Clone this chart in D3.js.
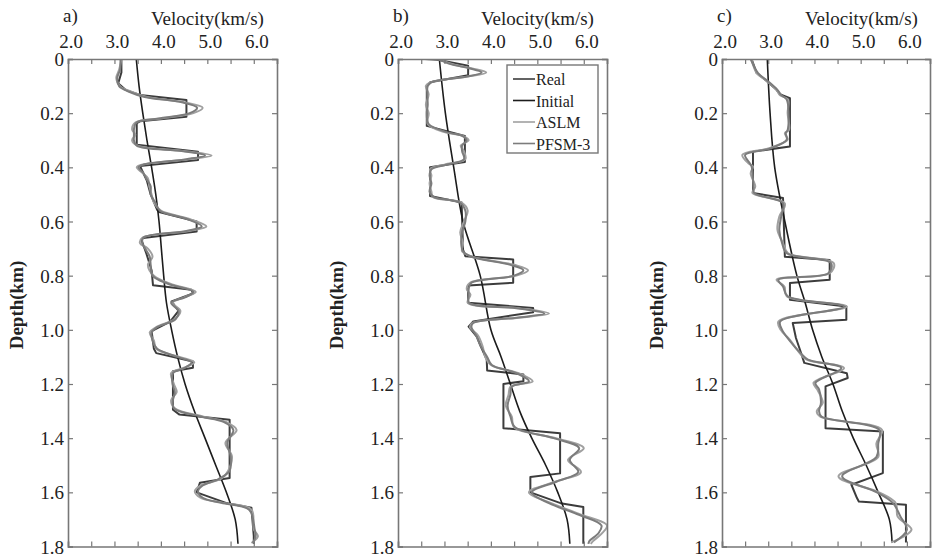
<!DOCTYPE html>
<html><head><meta charset="utf-8">
<script src="https://cdn.jsdelivr.net/npm/d3@7"></script>
<style>body{margin:0;background:#fff}svg{display:block}text{font-family:"Liberation Serif","Times New Roman",serif;fill:#222}</style>
</head><body><svg id="c" width="933" height="558"></svg>
<script>
const velTicks = [2.0, 3.0, 4.0, 5.0, 6.0];
const velMinorTicks = [2.0,2.5,3.0,3.5,4.0,4.5,5.0,5.5,6.0,6.5];
const depthTicks = [0,0.2,0.4,0.6,0.8,1.0,1.2,1.4,1.6,1.8];
const seriesNames = ["Real","Initial","ASLM","PFSM-3"];
const panelLabels = ["a)","b)","c)"];

// Panel a  [depth km, velocity km/s]
const realA = [[0,3.15],[0.05,3.15],[0.09,3.08],[0.115,3.25],[0.133,3.55],[0.151,4.55],[0.213,4.55],[0.23,3.55],[0.237,3.48],[0.317,3.48],[0.342,4.8],[0.373,4.8],[0.395,3.55],[0.45,3.7],[0.5,3.78],[0.557,3.92],[0.565,3.96],[0.6,4.77],[0.637,4.77],[0.661,3.62],[0.667,3.58],[0.72,3.69],[0.78,3.80],[0.835,3.83],[0.852,4.66],[0.866,4.69],[0.895,4.23],[0.93,4.38],[0.97,4.2],[1.005,3.80],[1.07,3.85],[1.086,3.9],[1.117,4.69],[1.14,4.69],[1.153,4.26],[1.295,4.26],[1.313,4.4],[1.332,5.48],[1.547,5.48],[1.565,4.84],[1.60,4.77],[1.639,5.4],[1.657,5.95],[1.762,6.0],[1.79,6.0]];
const initialA = [[0,3.47],[0.1,3.53],[0.2,3.61],[0.3,3.70],[0.4,3.80],[0.5,3.89],[0.6,3.96],[0.7,4.01],[0.8,4.06],[0.9,4.12],[1.0,4.23],[1.1,4.36],[1.2,4.52],[1.3,4.72],[1.4,4.95],[1.5,5.18],[1.6,5.41],[1.7,5.60],[1.79,5.66]];
const aslmA = [[0,3.15],[0.04,3.1],[0.07,3.04],[0.1,3.12],[0.12,3.35],[0.14,3.7],[0.16,4.5],[0.18,4.9],[0.2,4.7],[0.22,4.0],[0.235,3.45],[0.26,3.38],[0.28,3.45],[0.3,3.38],[0.32,3.5],[0.34,4.5],[0.356,5.09],[0.37,4.6],[0.39,3.6],[0.4,3.48],[0.42,3.6],[0.44,3.72],[0.47,3.75],[0.5,3.8],[0.53,3.85],[0.56,4.0],[0.59,4.6],[0.618,4.98],[0.635,4.6],[0.66,3.6],[0.68,3.55],[0.7,3.72],[0.73,3.82],[0.76,3.72],[0.8,3.85],[0.83,4.2],[0.86,4.75],[0.88,4.5],[0.9,4.25],[0.93,4.42],[0.96,4.3],[0.99,3.9],[1.01,3.76],[1.04,3.85],[1.07,3.9],[1.1,4.4],[1.12,4.72],[1.14,4.5],[1.16,4.22],[1.2,4.28],[1.23,4.34],[1.26,4.22],[1.29,4.3],[1.32,4.9],[1.34,5.4],[1.37,5.63],[1.417,5.39],[1.467,5.53],[1.52,5.45],[1.55,5.3],[1.575,4.85],[1.596,4.73],[1.62,4.85],[1.639,5.34],[1.664,5.95],[1.737,6.0],[1.762,6.09],[1.787,5.95]];
const pfsmA = [[0,3.13],[0.04,3.12],[0.07,3.06],[0.1,3.1],[0.12,3.3],[0.14,3.65],[0.16,4.45],[0.18,4.78],[0.2,4.62],[0.22,3.95],[0.235,3.47],[0.26,3.42],[0.28,3.42],[0.3,3.42],[0.32,3.48],[0.34,4.45],[0.356,4.95],[0.37,4.55],[0.39,3.62],[0.4,3.52],[0.42,3.62],[0.44,3.68],[0.47,3.78],[0.5,3.78],[0.53,3.88],[0.56,3.98],[0.59,4.55],[0.618,4.88],[0.635,4.55],[0.66,3.62],[0.68,3.6],[0.7,3.66],[0.73,3.76],[0.76,3.78],[0.8,3.82],[0.83,4.15],[0.86,4.7],[0.88,4.52],[0.9,4.22],[0.93,4.38],[0.96,4.32],[0.99,3.92],[1.01,3.8],[1.04,3.82],[1.07,3.92],[1.1,4.35],[1.12,4.66],[1.14,4.52],[1.16,4.26],[1.2,4.25],[1.23,4.3],[1.26,4.26],[1.29,4.28],[1.32,4.85],[1.34,5.35],[1.37,5.56],[1.417,5.43],[1.467,5.5],[1.52,5.48],[1.55,5.25],[1.575,4.9],[1.596,4.8],[1.62,4.9],[1.639,5.3],[1.664,5.9],[1.737,6.02],[1.762,6.04],[1.787,5.98]];

// Panel b
const realB = [[0,2.58],[0.003,2.86],[0.025,3.51],[0.06,3.51],[0.086,2.69],[0.1,2.62],[0.247,2.62],[0.284,3.44],[0.38,3.44],[0.4,2.69],[0.506,2.69],[0.53,3.37],[0.704,3.4],[0.728,3.45],[0.74,4.48],[0.826,4.48],[0.836,3.51],[0.9,3.51],[0.919,4.91],[0.935,4.91],[0.969,3.62],[0.988,3.52],[1.026,3.7],[1.06,3.78],[1.11,3.91],[1.15,3.92],[1.165,4.7],[1.19,4.7],[1.2,4.27],[1.363,4.27],[1.382,5.49],[1.53,5.49],[1.543,4.85],[1.6,4.85],[1.64,5.5],[1.654,5.99],[1.79,5.99]];
const initialB = [[0,2.89],[0.2,3.02],[0.4,3.2],[0.6,3.4],[0.8,3.77],[1.0,4.0],[1.1,4.22],[1.2,4.42],[1.3,4.62],[1.4,4.88],[1.5,5.18],[1.6,5.44],[1.7,5.64],[1.79,5.7]];
const aslmB = [[0,2.86],[0.02,3.2],[0.035,3.6],[0.05,3.9],[0.065,3.5],[0.086,2.7],[0.1,2.6],[0.13,2.66],[0.17,2.6],[0.2,2.66],[0.24,2.64],[0.27,3.0],[0.284,3.4],[0.3,3.52],[0.32,3.35],[0.34,3.42],[0.37,3.45],[0.39,3.0],[0.407,2.69],[0.43,2.72],[0.46,2.68],[0.49,2.72],[0.51,2.75],[0.53,3.37],[0.56,3.5],[0.6,3.42],[0.64,3.34],[0.68,3.4],[0.71,3.38],[0.73,3.6],[0.76,4.5],[0.78,4.8],[0.8,4.55],[0.826,3.55],[0.85,3.48],[0.87,3.56],[0.9,3.5],[0.92,4.6],[0.94,5.25],[0.955,4.6],[0.975,3.6],[0.99,3.55],[1.02,3.72],[1.06,3.82],[1.1,3.88],[1.13,4.0],[1.16,4.6],[1.19,4.9],[1.21,4.42],[1.24,4.38],[1.28,4.32],[1.32,4.45],[1.36,4.5],[1.4,5.4],[1.437,6.0],[1.48,5.66],[1.525,5.94],[1.56,5.4],[1.6,4.82],[1.64,5.3],[1.68,5.9],[1.722,6.5],[1.75,6.4],[1.78,6.2],[1.79,6.15]];
const pfsmB = [[0,2.86],[0.02,3.15],[0.035,3.55],[0.05,3.8],[0.065,3.48],[0.086,2.72],[0.1,2.64],[0.13,2.63],[0.17,2.64],[0.2,2.62],[0.24,2.66],[0.27,3.05],[0.284,3.38],[0.3,3.48],[0.32,3.38],[0.34,3.38],[0.37,3.42],[0.39,3.05],[0.407,2.72],[0.43,2.68],[0.46,2.72],[0.49,2.68],[0.51,2.78],[0.53,3.33],[0.56,3.45],[0.6,3.45],[0.64,3.38],[0.68,3.36],[0.71,3.4],[0.73,3.58],[0.76,4.42],[0.78,4.7],[0.8,4.5],[0.826,3.58],[0.85,3.52],[0.87,3.52],[0.9,3.53],[0.92,4.55],[0.94,5.15],[0.955,4.55],[0.975,3.62],[0.99,3.58],[1.02,3.68],[1.06,3.78],[1.1,3.92],[1.13,4.02],[1.16,4.55],[1.19,4.82],[1.21,4.45],[1.24,4.42],[1.28,4.36],[1.32,4.42],[1.36,4.52],[1.4,5.35],[1.437,5.9],[1.48,5.7],[1.525,5.88],[1.56,5.42],[1.6,4.88],[1.64,5.25],[1.68,5.85],[1.722,6.38],[1.75,6.32],[1.78,6.12],[1.79,6.1]];

// Panel c
const realC = [[0,2.64],[0.052,2.75],[0.08,2.96],[0.114,3.18],[0.13,3.25],[0.145,3.47],[0.323,3.47],[0.342,2.67],[0.495,2.67],[0.513,3.32],[0.73,3.36],[0.742,4.33],[0.815,4.33],[0.827,3.47],[0.889,3.47],[0.914,4.69],[0.963,4.69],[0.975,3.53],[1.03,3.6],[1.08,3.7],[1.122,3.78],[1.16,4.7],[1.178,4.72],[1.209,4.24],[1.363,4.24],[1.375,5.48],[1.529,5.48],[1.572,4.8],[1.621,4.92],[1.634,4.96],[1.646,5.98],[1.785,5.98]];
const initialC = [[0,2.98],[0.2,3.04],[0.4,3.14],[0.6,3.36],[0.8,3.62],[0.9,3.8],[1.0,3.96],[1.1,4.16],[1.2,4.4],[1.3,4.6],[1.4,4.84],[1.5,5.12],[1.6,5.38],[1.7,5.62],[1.785,5.68]];
const aslmC = [[0,2.64],[0.052,2.75],[0.08,2.96],[0.114,3.18],[0.133,3.25],[0.15,3.43],[0.2,3.42],[0.262,3.45],[0.274,3.36],[0.298,3.42],[0.33,3.0],[0.354,2.44],[0.385,2.57],[0.397,2.67],[0.422,2.62],[0.471,2.72],[0.495,2.66],[0.533,3.36],[0.582,3.24],[0.631,3.2],[0.68,3.32],[0.717,3.43],[0.754,4.42],[0.791,4.33],[0.815,3.18],[0.84,3.35],[0.876,3.4],[0.914,4.7],[0.969,3.22],[1.0,3.27],[1.037,3.47],[1.086,3.68],[1.11,3.83],[1.141,4.64],[1.196,3.98],[1.22,4.06],[1.27,4.18],[1.3,4.05],[1.32,4.12],[1.369,5.46],[1.42,5.34],[1.47,5.38],[1.541,4.52],[1.6,5.4],[1.64,5.76],[1.689,5.8],[1.738,6.1],[1.785,5.66]];
const pfsmC = [[0,2.62],[0.052,2.78],[0.08,2.98],[0.114,3.2],[0.133,3.28],[0.15,3.4],[0.2,3.44],[0.262,3.42],[0.274,3.38],[0.298,3.4],[0.33,3.05],[0.354,2.5],[0.385,2.6],[0.397,2.64],[0.422,2.66],[0.471,2.68],[0.495,2.7],[0.533,3.32],[0.582,3.28],[0.631,3.24],[0.68,3.3],[0.717,3.4],[0.754,4.36],[0.791,4.3],[0.815,3.22],[0.84,3.32],[0.876,3.42],[0.914,4.64],[0.969,3.26],[1.0,3.3],[1.037,3.45],[1.086,3.7],[1.11,3.86],[1.141,4.58],[1.196,4.02],[1.22,4.1],[1.27,4.14],[1.3,4.1],[1.32,4.15],[1.369,5.4],[1.42,5.38],[1.47,5.34],[1.541,4.6],[1.6,5.35],[1.64,5.7],[1.689,5.86],[1.738,6.0],[1.785,5.72]];

const panels = [
  {label:"a)", left:68, right:277, series:[realA, initialA, aslmA, pfsmA], depthX:17},
  {label:"b)", left:398, right:607, series:[realB, initialB, aslmB, pfsmB], depthX:337, legend:true},
  {label:"c)", left:722, right:930, series:[realC, initialC, aslmC, pfsmC], depthX:657}
];
const TOP = 59, BOTTOM = 546.5;
const colors = {"Real":"#3c3c3c","Initial":"#1c1c1c","ASLM":"#a0a0a0","PFSM-3":"#7c7c7c"};
const widths = {"Real":2,"Initial":1.6,"ASLM":2,"PFSM-3":2};
const curves = {"Real":d3.curveLinear,"Initial":d3.curveCatmullRom,"ASLM":d3.curveCatmullRom,"PFSM-3":d3.curveCatmullRom};
const frameColor = "#777";

const svg = d3.select("#c");
panels.forEach((p, pi) => {
  const x = d3.scaleLinear().domain([2.0, 6.5]).range([p.left, p.right]);
  const y = d3.scaleLinear().domain([0, 1.8]).range([TOP, BOTTOM]);
  const g = svg.append("g");
  const clipId = "clip" + pi;
  svg.append("clipPath").attr("id", clipId).append("rect")
    .attr("x", p.left).attr("y", TOP).attr("width", p.right - p.left).attr("height", BOTTOM - TOP);

  const lg = g.append("g").attr("clip-path", `url(#${clipId})`);
  seriesNames.forEach((name, si) => {
    const line = d3.line().x(d => x(d[1])).y(d => y(d[0])).curve(curves[name]);
    lg.append("path").datum(p.series[si]).attr("d", line)
      .attr("fill", "none").attr("stroke", colors[name]).attr("stroke-width", widths[name])
      .attr("stroke-linejoin", "round");
  });

  const axT = d3.axisBottom(x).tickValues(velMinorTicks).tickSize(5).tickFormat("");
  const axB = d3.axisTop(x).tickValues(velMinorTicks).tickSize(5).tickFormat("");
  const axL = d3.axisRight(y).tickValues(depthTicks).tickSize(5).tickFormat("");
  const axR = d3.axisLeft(y).tickValues(depthTicks).tickSize(5).tickFormat("");
  [[axT,`translate(0,${TOP})`],[axB,`translate(0,${BOTTOM})`],[axL,`translate(${p.left},0)`],[axR,`translate(${p.right},0)`]].forEach(([ax,t]) => {
    const a = g.append("g").attr("transform", t).call(ax);
    a.select(".domain").attr("stroke", frameColor).attr("stroke-width", 1.6);
    a.selectAll(".tick line").attr("stroke", frameColor).attr("stroke-width", 1.2);
  });

  g.selectAll(".vl").data(velTicks).enter().append("text")
    .attr("x", d => x(d) + 3).attr("y", 48).attr("text-anchor", "middle")
    .attr("font-size", 19).text(d => d.toFixed(1));
  g.selectAll(".dl").data(depthTicks).enter().append("text")
    .attr("x", p.left - 4).attr("y", d => y(d) + 7).attr("text-anchor", "end")
    .attr("font-size", 19).text(d => d === 0 ? "0" : d.toFixed(1));
  g.append("text").attr("x", p.left - 5).attr("y", 22).attr("font-size", 19).text(p.label);
  g.append("text").attr("x", p.left + 83).attr("y", 25).attr("font-size", 19).text("Velocity(km/s)");
  g.append("text").attr("transform", `translate(${p.depthX + 6},305) rotate(-90)`)
    .attr("text-anchor", "middle").attr("font-size", 19).attr("font-weight", "bold").text("Depth(km)");

  if (p.legend) {
    const lgd = g.append("g");
    lgd.append("rect").attr("x", 507).attr("y", 65).attr("width", 91).attr("height", 88)
      .attr("fill", "#fff").attr("stroke", frameColor).attr("stroke-width", 1.4);
    seriesNames.forEach((name, i) => {
      const yy = 79 + i * 21.5;
      lgd.append("line").attr("x1", 513).attr("x2", 535).attr("y1", yy).attr("y2", yy)
        .attr("stroke", colors[name]).attr("stroke-width", 1.6);
      lgd.append("text").attr("x", 536).attr("y", yy + 6).attr("font-size", 16).text(name);
    });
  }
});
</script></body></html>
